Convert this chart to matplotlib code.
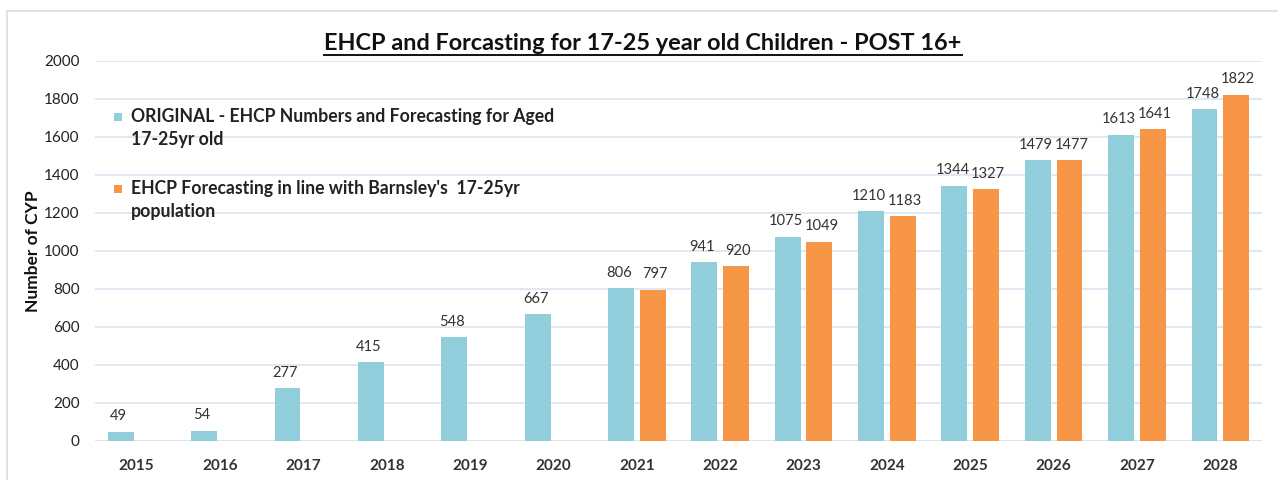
import matplotlib
matplotlib.use("Agg")
import matplotlib.pyplot as plt
import numpy as np
from matplotlib.patches import Rectangle
from matplotlib.lines import Line2D

years = ["2015", "2016", "2017", "2018", "2019", "2020", "2021",
         "2022", "2023", "2024", "2025", "2026", "2027", "2028"]
original = [49, 54, 277, 415, 548, 667, 806, 941, 1075, 1210, 1344, 1479, 1613, 1748]
barnsley = [None, None, None, None, None, None, 797, 920, 1049, 1183, 1327, 1477, 1641, 1822]
series_names = ["ORIGINAL - EHCP Numbers and Forecasting for Aged\n17-25yr old",
                "EHCP Forecasting in line with Barnsley's  17-25yr\npopulation"]
title = "EHCP and Forcasting for 17-25 year old Children - POST 16+"
ylabel = "Number of CYP"

FONT = "Lato"
plt.rcParams["font.family"] = [FONT, "DejaVu Sans"]

W, H = 1278, 480
fig = plt.figure(figsize=(W / 100, H / 100), dpi=100)
ax = fig.add_axes([95 / W, 1 - 441 / H, (1262 - 95) / W, (441 - 61) / H])

blue = "#92CDDC"
orange = "#F79646"
grid_c = "#D9E4F1"

x = np.arange(len(years))
bw = 0.31
off = 0.19

b1 = ax.bar(x - off, original, width=bw, color=blue, zorder=3)
bx = [xi + off for xi, v in zip(x, barnsley) if v is not None]
bv = [v for v in barnsley if v is not None]
b2 = ax.bar(bx, bv, width=bw, color=orange, zorder=3)

for rect, v in zip(b1, original):
    ax.annotate(str(v), (rect.get_x() + rect.get_width() / 2, v),
                xytext=(-1.5, 6), textcoords="offset points", ha="center", va="bottom",
                fontsize=10.6, color="#333333")
for rect, v in zip(b2, bv):
    ax.annotate(str(v), (rect.get_x() + rect.get_width() / 2, v),
                xytext=(1.5, 6), textcoords="offset points", ha="center", va="bottom",
                fontsize=10.6, color="#333333")

ax.set_xlim(-0.5, len(years) - 0.5)
ax.set_ylim(0, 2000)
ax.set_yticks(np.arange(0, 2001, 200))
ax.set_xticks(x)
ax.set_xticklabels(years)
ax.grid(axis="y", color=grid_c, linewidth=1.2, zorder=0)
ax.set_axisbelow(True)
for s in ax.spines.values():
    s.set_visible(False)
ax.axhline(0, color=grid_c, linewidth=1.2, zorder=1)
ax.tick_params(axis="both", length=0, labelsize=11, colors="#222222")
ax.tick_params(axis="y", pad=11)
ax.tick_params(axis="x", pad=13)
for lbl in ax.get_xticklabels():
    lbl.set_fontweight("bold")
    lbl.set_color("#333333")
ax.set_ylabel(ylabel, fontsize=12.5, fontweight="bold", color="#111111")
ax.yaxis.set_label_coords(-0.046, 0.5)

# manual legend (marker aligned with first line as in the reference)
tr = fig.transFigure
leg_items = [(series_names[0], blue, 117), (series_names[1], orange, 189)]
for label, col, ypx in leg_items:
    fig.patches.append(Rectangle((114 / W, 1 - (ypx + 4) / H), 8 / W, 8 / H,
                                 transform=tr, facecolor=col, edgecolor="none", zorder=5))
    fig.text(131 / W, 1 - (ypx - 9) / H, label, fontsize=12.7, fontweight="bold",
             ha="left", va="top", linespacing=1.45, color="#222222")

# title with underline
t = fig.text(643 / W, 1 - 43 / H, title, fontsize=16.9, fontweight="bold",
             ha="center", va="center", color="#111111")
fig.canvas.draw()
bb = t.get_window_extent(renderer=fig.canvas.get_renderer())
uy = 1 - 55 / H
fig.lines.append(Line2D([bb.x0 / W, bb.x1 / W], [uy, uy], transform=tr,
                        color="#111111", linewidth=1.4))

# outer chart border
fig.patches.append(Rectangle((7 / W, -0.1), 1.2, 1 - 11 / H + 0.1, transform=tr,
                             facecolor="none", edgecolor="#D5DFEA", linewidth=1.3))

fig.savefig("out.png", dpi=100)
